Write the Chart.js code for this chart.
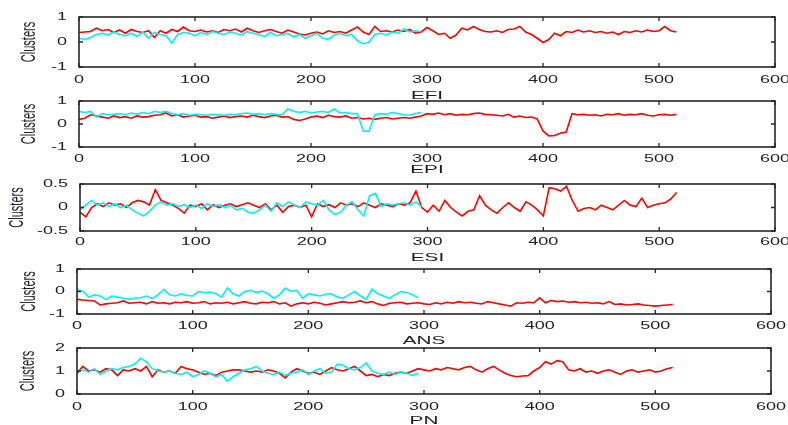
<!DOCTYPE html>
<html>
<head>
<meta charset="utf-8">
<script src="https://cdn.jsdelivr.net/npm/chart.js@4.4.1/dist/chart.umd.min.js"></script>
<style>
  html, body { margin: 0; padding: 0; background: #fff; overflow: hidden; }
  #wrap { position: relative; width: 788px; height: 425px; }
  #wrap canvas { position: absolute; left: 0; }
</style>
</head>
<body>
<div id="wrap"></div>
<script>
// samples are every STEP units along x
const STEP = 5;
const titles = ['EFI', 'EPI', 'ESI', 'ANS', 'PN'];
const xTicks = [0, 100, 200, 300, 400, 500, 600];

// EFI
const efiRed = [
  0.38,0.40,0.42,0.55,0.45,0.50,0.38,0.48,0.35,0.50,0.42,0.38,0.45,0.18,0.45,0.35,0.50,0.42,0.60,0.45,
  0.42,0.48,0.40,0.45,0.38,0.50,0.45,0.52,0.40,0.55,0.45,0.38,0.45,0.50,0.42,0.35,0.48,0.40,0.32,0.28,
  0.35,0.40,0.32,0.45,0.38,0.42,0.35,0.48,0.60,0.40,0.30,0.62,0.42,0.45,0.40,0.48,0.42,0.50,0.35,0.40,
  0.58,0.45,0.30,0.35,0.15,0.28,0.55,0.48,0.62,0.50,0.42,0.40,0.45,0.38,0.50,0.52,0.62,0.40,0.30,0.15,
  -0.02,0.10,0.35,0.25,0.42,0.38,0.48,0.40,0.45,0.38,0.42,0.35,0.40,0.30,0.42,0.38,0.45,0.40,0.48,0.42,
  0.45,0.62,0.45,0.40
];
const efiCyan = [
  0.15,0.10,0.18,0.30,0.35,0.28,0.40,0.30,0.25,0.35,0.22,0.40,0.15,0.38,0.30,0.25,-0.05,0.30,0.38,0.35,
  0.25,0.38,0.30,0.42,0.35,0.30,0.40,0.35,0.28,0.42,0.35,0.30,0.22,0.38,0.25,0.30,0.35,0.20,0.30,0.15,
  0.25,0.35,0.15,0.10,0.28,0.35,0.25,0.30,0.05,-0.08,0.00,0.30,0.35,0.28,0.40,0.35,0.52,0.40,0.45,0.42
];

// EPI
const epiRed = [
  0.20,0.25,0.40,0.35,0.30,0.25,0.35,0.28,0.32,0.25,0.35,0.30,0.32,0.38,0.40,0.48,0.35,0.40,0.30,0.35,
  0.38,0.30,0.32,0.25,0.30,0.35,0.28,0.32,0.35,0.30,0.38,0.32,0.28,0.35,0.38,0.30,0.32,0.20,0.15,0.22,
  0.30,0.35,0.28,0.38,0.32,0.30,0.35,0.25,0.28,0.22,0.25,0.20,0.25,0.28,0.22,0.25,0.28,0.25,0.30,0.35,
  0.45,0.42,0.48,0.40,0.45,0.38,0.42,0.40,0.45,0.48,0.42,0.40,0.38,0.35,0.42,0.30,0.35,0.28,0.30,0.22,
  -0.30,-0.52,-0.50,-0.40,-0.35,0.45,0.40,0.42,0.38,0.40,0.35,0.42,0.40,0.45,0.38,0.42,0.40,0.45,0.38,0.35,
  0.40,0.42,0.38,0.42
];
const epiCyan = [
  0.55,0.50,0.55,0.30,0.45,0.40,0.42,0.45,0.40,0.48,0.42,0.50,0.45,0.55,0.50,0.55,0.45,0.40,0.45,0.38,
  0.42,0.40,0.38,0.42,0.40,0.38,0.42,0.40,0.45,0.48,0.42,0.45,0.40,0.45,0.42,0.40,0.65,0.55,0.50,0.55,
  0.48,0.52,0.55,0.50,0.65,0.48,0.50,0.45,0.45,-0.30,-0.32,0.40,0.45,0.42,0.50,0.45,0.40,0.38,0.45,0.50
];

// ESI
const esiRed = [
  -0.10,-0.20,0.00,0.08,0.02,0.10,0.05,0.08,0.00,0.10,0.15,0.12,0.05,0.38,0.15,0.10,0.05,-0.02,-0.12,0.05,
  0.02,0.08,-0.05,0.06,0.00,0.05,0.08,0.02,0.06,0.10,0.05,0.00,0.08,-0.05,0.05,-0.10,0.02,0.05,0.00,0.05,
  -0.20,0.08,0.02,0.06,0.00,0.10,0.05,0.08,0.02,0.10,0.05,0.00,0.08,0.05,0.02,0.08,0.05,0.10,0.35,0.00,
  -0.10,0.05,-0.08,0.15,0.00,-0.10,-0.18,-0.08,-0.05,0.25,0.05,-0.05,-0.12,0.00,0.10,0.00,-0.08,0.12,0.05,-0.05,
  -0.18,0.42,0.40,0.35,0.45,0.15,-0.08,-0.02,0.00,-0.05,0.05,0.00,-0.05,0.05,0.15,0.05,0.02,0.20,0.00,0.05,
  0.08,0.10,0.18,0.32
];
const esiCyan = [
  -0.05,0.05,0.15,0.05,0.10,0.02,0.08,0.00,0.05,-0.05,-0.12,-0.18,-0.08,0.05,0.12,0.05,0.08,0.02,0.06,0.00,
  0.05,-0.02,0.08,0.02,0.06,0.00,0.05,-0.05,-0.02,-0.10,-0.12,-0.05,0.05,-0.08,0.10,0.02,0.12,0.05,0.00,0.12,
  0.08,0.05,0.15,-0.05,-0.15,-0.10,0.05,0.12,-0.05,-0.18,0.25,0.30,0.02,0.08,0.05,0.08,0.10,0.05,0.12,0.02
];

// ANS
const ansRed = [
  -0.35,-0.38,-0.40,-0.42,-0.60,-0.55,-0.52,-0.50,-0.42,-0.52,-0.50,-0.48,-0.55,-0.45,-0.52,-0.50,-0.55,-0.48,-0.50,-0.45,
  -0.52,-0.50,-0.45,-0.55,-0.50,-0.52,-0.48,-0.55,-0.50,-0.45,-0.52,-0.55,-0.48,-0.50,-0.45,-0.55,-0.50,-0.65,-0.55,-0.50,
  -0.55,-0.48,-0.52,-0.60,-0.55,-0.50,-0.45,-0.50,-0.48,-0.42,-0.50,-0.45,-0.55,-0.62,-0.52,-0.50,-0.48,-0.55,-0.52,-0.50,
  -0.55,-0.58,-0.50,-0.55,-0.48,-0.52,-0.45,-0.50,-0.48,-0.52,-0.55,-0.45,-0.50,-0.55,-0.60,-0.65,-0.50,-0.52,-0.48,-0.50,
  -0.28,-0.50,-0.40,-0.45,-0.42,-0.48,-0.45,-0.50,-0.48,-0.52,-0.50,-0.55,-0.45,-0.58,-0.55,-0.60,-0.58,-0.55,-0.60,-0.62,
  -0.65,-0.62,-0.60,-0.58
];
const ansCyan = [
  0.10,0.00,-0.25,-0.15,-0.20,-0.35,-0.20,-0.25,-0.30,-0.35,-0.30,-0.28,-0.20,-0.32,-0.15,0.10,-0.15,-0.20,-0.10,-0.18,
  -0.20,0.00,-0.05,-0.02,-0.10,-0.25,0.15,-0.10,-0.20,0.00,0.05,-0.05,0.02,-0.10,-0.30,-0.15,0.15,0.00,0.05,-0.30,
  -0.10,-0.15,-0.20,-0.12,-0.10,-0.25,-0.30,-0.15,0.00,-0.20,-0.35,0.10,-0.10,-0.20,-0.30,-0.15,0.00,-0.05,-0.15,-0.28
];

// PN
const pnRed = [
  0.90,1.20,1.00,1.05,0.95,1.10,1.05,0.80,1.05,1.00,1.10,1.00,1.20,0.75,1.05,0.95,1.00,0.90,1.20,1.10,
  1.05,0.95,0.85,0.90,0.80,0.95,1.00,1.05,1.05,1.00,0.95,1.00,0.95,1.05,1.00,0.90,0.70,0.95,1.10,1.00,
  0.90,0.95,0.85,1.00,1.15,1.05,1.00,1.10,1.20,1.00,0.80,0.85,0.75,0.85,0.80,0.90,0.95,0.90,1.00,1.10,
  1.05,1.00,1.10,1.05,1.15,1.10,1.05,1.15,1.20,1.05,0.95,1.10,1.20,1.05,0.90,0.80,0.75,0.78,0.80,1.00,
  1.15,1.40,1.30,1.45,1.40,1.05,1.00,1.10,0.95,1.00,0.90,1.00,1.05,0.95,0.85,1.00,1.05,0.95,1.00,1.05,
  0.95,1.00,1.10,1.15
];
const pnCyan = [
  1.00,1.05,0.95,1.10,0.85,1.00,1.10,1.05,1.15,1.20,1.30,1.55,1.40,1.10,1.00,0.95,1.00,0.90,0.85,0.95,
  0.75,0.85,1.00,0.90,0.75,0.85,0.55,0.75,0.90,1.05,1.10,1.20,1.00,0.90,0.85,0.95,0.80,0.90,0.95,1.05,
  0.85,1.00,1.10,0.90,0.95,1.30,1.25,1.10,1.05,1.15,1.35,1.00,0.90,0.85,0.95,0.85,0.95,0.90,0.80,0.90
];

const redSeries = [efiRed, epiRed, esiRed, ansRed, pnRed];
const cyanSeries = [efiCyan, epiCyan, esiCyan, ansCyan, pnCyan];
const yRanges = [[-1, 1, 1], [-1, 1, 1], [-0.5, 0.5, 0.5], [-1, 1, 1], [0, 2, 1]];

// pixel layout of each subplot (axes box, label rows)
const boxes = [
  { top: 17,  bottom: 67,  left: 79, right: 775, tickPad: 7, titleY: 96,  yTitleX: 30 },
  { top: 101, bottom: 147, left: 79, right: 775, tickPad: 6, titleY: 170, yTitleX: 30 },
  { top: 184, bottom: 231, left: 80, right: 775, tickPad: 5, titleY: 258, yTitleX: 18 },
  { top: 269, bottom: 314, left: 77, right: 771, tickPad: 6, titleY: 341, yTitleX: 30 },
  { top: 348, bottom: 394, left: 77, right: 771, tickPad: 7, titleY: 421, yTitleX: 29 }
];

const TEXT = '#1c1c28';
const FAMILY = '"Liberation Sans", Arial, sans-serif';
const TICK_FONT = { family: FAMILY, size: 10 };
const TITLE_FONT = { family: FAMILY, size: 11.5 };
const Y_TITLE_FONT = { family: FAMILY, size: 11 };
// the source figure was squeezed into a wide frame, so its text is wider than normal
const TEXT_STRETCH = 1.8;

const toPoints = (arr) => arr.map((v, i) => ({ x: i * STEP, y: v }));

// stretch every label along the picture's x direction around its anchor
const wideText = {
  id: 'wideText',
  beforeDraw(chart) {
    const ctx = chart.ctx;
    if (ctx.__wide) return;
    const fill = ctx.fillText;
    ctx.fillText = function (text, x, y, maxWidth) {
      const m = this.getTransform();
      this.save();
      this.translate(x, y);
      if (Math.abs(m.b) < 1e-6) this.scale(TEXT_STRETCH, 1);
      else this.scale(1, TEXT_STRETCH);
      if (maxWidth === undefined) fill.call(this, text, 0, 0);
      else fill.call(this, text, 0, 0, maxWidth);
      this.restore();
    };
    ctx.__wide = true;
  }
};

// matlab style frame with inward ticks
const framePlugin = {
  id: 'frame',
  afterDatasetsDraw(chart) {
    const { ctx, chartArea: a, scales: { x, y } } = chart;
    const len = 4;
    ctx.save();
    ctx.strokeStyle = '#262626';
    ctx.lineWidth = 1.6;
    ctx.strokeRect(a.left, a.top, a.right - a.left, a.bottom - a.top);
    ctx.lineWidth = 1.3;
    ctx.beginPath();
    x.ticks.forEach(t => {
      const px = x.getPixelForValue(t.value);
      ctx.moveTo(px, a.top); ctx.lineTo(px, a.top + len);
      ctx.moveTo(px, a.bottom); ctx.lineTo(px, a.bottom - len);
    });
    y.ticks.forEach(t => {
      const py = y.getPixelForValue(t.value);
      ctx.moveTo(a.left, py); ctx.lineTo(a.left + len, py);
      ctx.moveTo(a.right, py); ctx.lineTo(a.right - len, py);
    });
    ctx.stroke();
    ctx.restore();
  }
};

const wrap = document.getElementById('wrap');
const PAD_TOP = 8;

titles.forEach((title, k) => {
  const b = boxes[k];
  const [yMin, yMax, yStep] = yRanges[k];
  const canvasTop = b.top - PAD_TOP;
  const canvasH = Math.round(b.titleY - b.top + PAD_TOP + 7);
  const xAxisH = canvasH - PAD_TOP - (b.bottom - b.top);

  const canvas = document.createElement('canvas');
  canvas.width = 788;
  canvas.height = canvasH;
  canvas.style.top = canvasTop + 'px';
  wrap.appendChild(canvas);

  new Chart(canvas, {
    type: 'line',
    data: {
      datasets: [
        {
          label: 'cyan',
          data: toPoints(cyanSeries[k]),
          borderColor: '#00f2f2',
          borderWidth: 1.6,
          pointRadius: 0,
          tension: 0
        },
        {
          label: 'red',
          data: toPoints(redSeries[k]),
          borderColor: '#ff0000',
          borderWidth: 1.6,
          pointRadius: 0,
          tension: 0
        }
      ]
    },
    options: {
      responsive: false,
      animation: false,
      events: [],
      layout: { padding: { top: PAD_TOP, left: 0, right: 788 - b.right, bottom: 0 } },
      plugins: {
        legend: { display: false },
        tooltip: { enabled: false }
      },
      scales: {
        x: {
          type: 'linear',
          min: 0,
          max: 600,
          afterBuildTicks: (scale) => { scale.ticks = xTicks.map(v => ({ value: v })); },
          ticks: { color: TEXT, font: TICK_FONT, padding: b.tickPad, maxRotation: 0, autoSkip: false },
          grid: { display: false, drawTicks: false },
          border: { display: false },
          title: { display: true, text: title, color: TEXT, font: TITLE_FONT, padding: { top: 0, bottom: 0 } },
          afterFit: (scale) => {
            scale.height = xAxisH;
            scale.paddingLeft = 0;
            scale.paddingRight = 0;
          }
        },
        y: {
          min: yMin,
          max: yMax,
          ticks: { stepSize: yStep, color: TEXT, font: TICK_FONT, padding: 12 },
          grid: { display: false, drawTicks: false },
          border: { display: false },
          title: { display: true, text: 'Clusters', color: TEXT, font: Y_TITLE_FONT, padding: { top: b.yTitleX - 6.6, bottom: 0 } },
          afterFit: (scale) => {
            scale.width = b.left;
            scale.paddingTop = 0;
            scale.paddingBottom = 0;
          }
        }
      }
    },
    plugins: [wideText, framePlugin]
  });
});
</script>
</body>
</html>
